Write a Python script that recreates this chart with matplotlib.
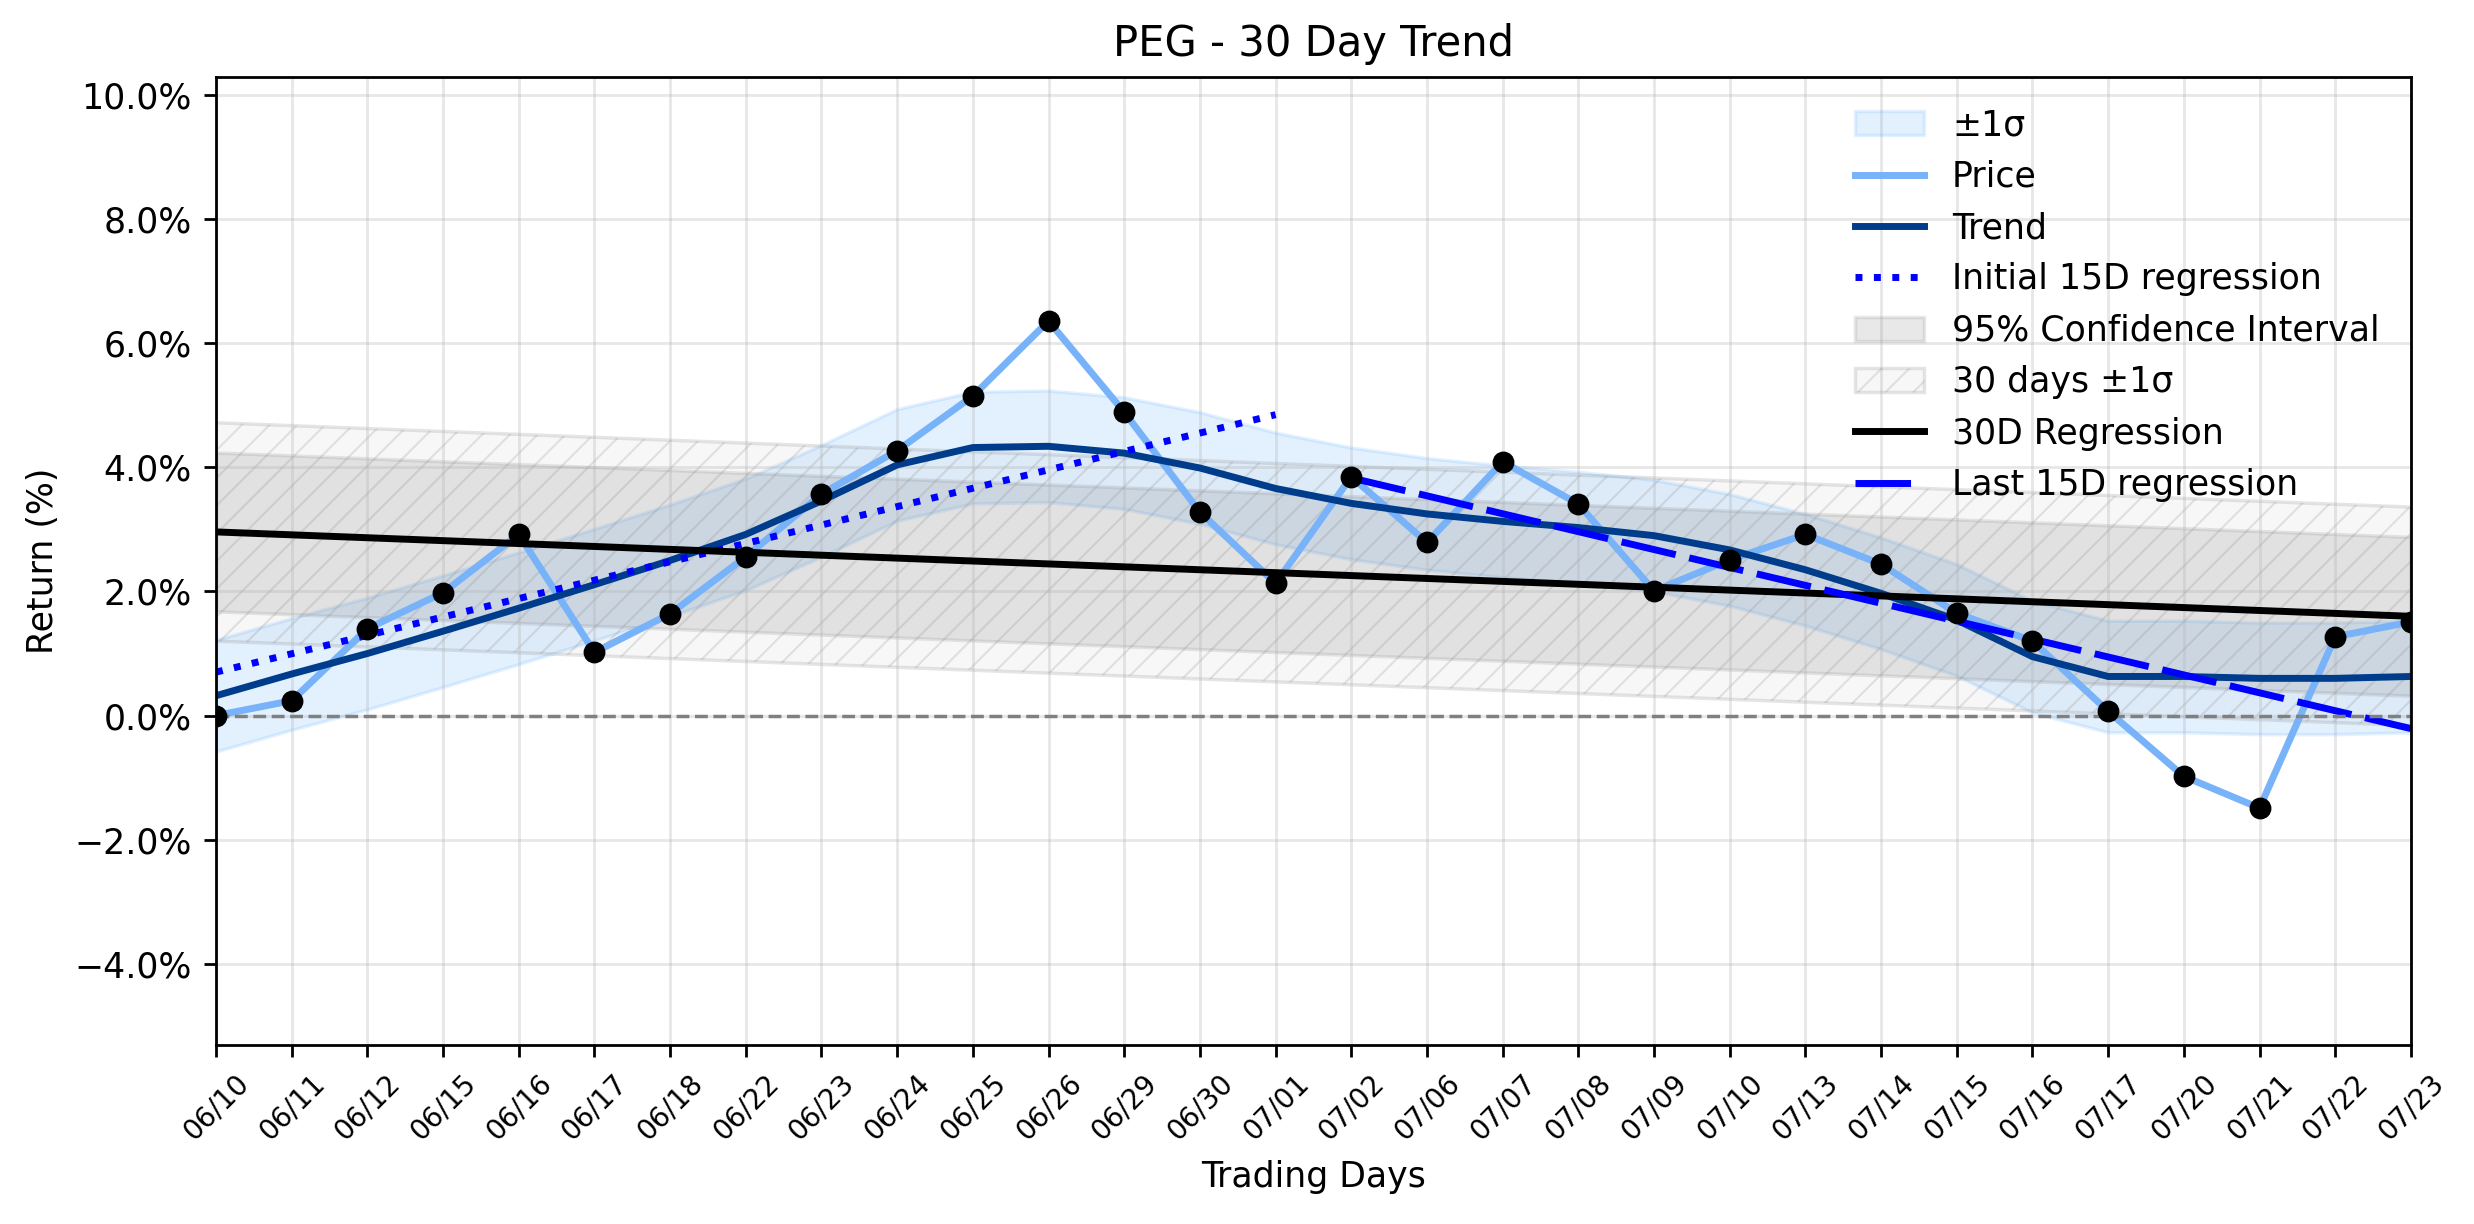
import numpy as np
import matplotlib
matplotlib.use('Agg')
import matplotlib.pyplot as plt
from matplotlib.ticker import PercentFormatter, MultipleLocator

# Trading days shown on the x axis
dates = ['06/10', '06/11', '06/12', '06/15', '06/16', '06/17', '06/18', '06/22',
         '06/23', '06/24', '06/25', '06/26', '06/29', '06/30', '07/01', '07/02',
         '07/06', '07/07', '07/08', '07/09', '07/10', '07/13', '07/14', '07/15',
         '07/16', '07/17', '07/20', '07/21', '07/22', '07/23']

# Cumulative return (%)
price = [0.00, 0.24, 1.40, 1.98, 2.92, 1.02, 1.64, 2.56, 3.57, 4.27,
         5.15, 6.36, 4.89, 3.28, 2.13, 3.85, 2.79, 4.09, 3.41, 2.01,
         2.51, 2.92, 2.44, 1.65, 1.20, 0.07, -0.98, -1.49, 1.27, 1.51]

# Smoothed trend (%)
trend = [0.32, 0.67, 1.00, 1.36, 1.73, 2.11, 2.50, 2.92, 3.46, 4.04,
         4.32, 4.34, 4.23, 3.99, 3.66, 3.42, 3.25, 3.13, 3.03, 2.90,
         2.67, 2.35, 1.97, 1.54, 0.95, 0.63, 0.63, 0.60, 0.60, 0.63]
trend_sigma = 0.90

# Regression end points (%)
reg30_ends = [2.96, 1.60]
reg30_ci = 1.28
reg30_sigma = 1.76
init15_ends = [0.70, 4.85]
last15_ends = [3.83, -0.21]

plt.rcParams['hatch.linewidth'] = 0.6

x = np.arange(len(dates))
trend = np.array(trend)

fig, ax = plt.subplots(figsize=(2474 / 250, 1224 / 250), dpi=250)
fig.subplots_adjust(left=0.0873, right=0.9745, top=0.937, bottom=0.1462)

ax.fill_between(x, trend - trend_sigma, trend + trend_sigma,
                color='dodgerblue', alpha=0.12, label='±1σ')
ax.plot(x, price, color='#78b2f8', lw=2, label='Price')
ax.plot(x, trend, color='#003c8c', lw=2, label='Trend')
ax.plot([0, 14], init15_ends, color='blue', lw=2, linestyle=':',
        label='Initial 15D regression')

# 30 day regression and its bands
reg_x = [0, len(dates) - 1]
reg_line = np.array(reg30_ends)
ax.fill_between(reg_x, reg_line - reg30_ci, reg_line + reg30_ci,
                color='gray', alpha=0.18, label='95% Confidence Interval')
ax.fill_between(reg_x, reg_line - reg30_sigma, reg_line + reg30_sigma,
                facecolor=(0.5, 0.5, 0.5, 0.06), edgecolor=(0.5, 0.5, 0.5, 0.2),
                hatch='///', linewidth=1, label='30 days ±1σ')
ax.plot(reg_x, reg_line, color='black', lw=2, label='30D Regression')
ax.plot([15, len(dates) - 1], last15_ends, color='blue', lw=2,
        linestyle=(0, (8, 2)), label='Last 15D regression')

ax.axhline(0, color='gray', linestyle='--', lw=1)
ax.scatter(x, price, color='black', s=28, zorder=5)

ax.set_title('PEG - 30 Day Trend', fontsize=12)
ax.set_xlabel('Trading Days')
ax.set_ylabel('Return (%)')
ax.set_xlim(0, len(dates) - 1)
ax.set_ylim(-5.31, 10.29)
ax.set_xticks(x)
ax.set_xticklabels(dates, rotation=45, fontsize=8)
ax.yaxis.set_major_locator(MultipleLocator(2))
ax.yaxis.set_major_formatter(PercentFormatter(xmax=100, decimals=1))
ax.grid(True, alpha=0.3)
ax.legend(loc='upper right', frameon=False, fontsize=10)

fig.savefig('out.png', dpi=250)
